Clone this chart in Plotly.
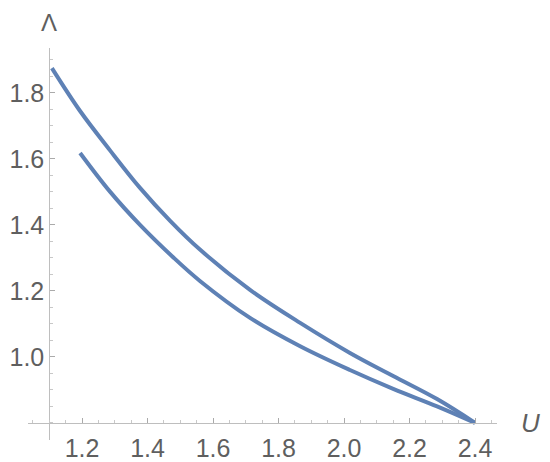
import plotly.graph_objects as go

# upper branch
u_upper = [1.108, 1.194, 1.286, 1.377, 1.469, 1.560, 1.713, 1.866, 2.018, 2.150, 2.284, 2.400]
l_upper = [1.875, 1.745, 1.625, 1.512, 1.412, 1.325, 1.203, 1.103, 1.012, 0.942, 0.872, 0.800]

# lower branch
u_lower = [1.194, 1.286, 1.377, 1.478, 1.560, 1.713, 1.866, 2.018, 2.150, 2.284, 2.400]
l_lower = [1.618, 1.500, 1.400, 1.302, 1.230, 1.118, 1.032, 0.960, 0.903, 0.850, 0.800]

x_ticks = [1.2, 1.4, 1.6, 1.8, 2.0, 2.2, 2.4]
y_ticks = [1.0, 1.2, 1.4, 1.6, 1.8]

blue = "rgb(94,129,181)"
gray = "rgb(95,95,95)"

xr = [1.035, 2.467]
yr = [0.748, 1.936]

fig = go.Figure()
fig.add_trace(go.Scatter(x=u_upper, y=l_upper, mode="lines",
                         line=dict(color=blue, width=4, shape="spline", smoothing=1.0)))
fig.add_trace(go.Scatter(x=u_lower, y=l_lower, mode="lines",
                         line=dict(color=blue, width=4, shape="spline", smoothing=1.0)))

axis_font = dict(family="Liberation Sans, Arial, sans-serif", size=25, color=gray)

# page body has an 8px margin, so the figure is made 8px smaller each way
fig.update_layout(
    width=542, height=454,
    plot_bgcolor="white", paper_bgcolor="white",
    showlegend=False,
    margin=dict(l=20, r=53, t=40, b=22),
    xaxis=dict(range=xr, tickvals=x_ticks, ticktext=["%.1f" % v for v in x_ticks],
               showgrid=False, zeroline=False, showline=True, linecolor="rgb(190,190,190)",
               linewidth=1, ticks="inside", ticklen=5, tickcolor="rgb(170,170,170)",
               minor=dict(dtick=0.05, tick0=1.0, ticks="inside", ticklen=3,
                          tickcolor="rgb(200,200,200)", showgrid=False),
               anchor="free", position=(0.8 - yr[0]) / (yr[1] - yr[0]),
               tickfont=axis_font, ticklabelstandoff=3, automargin=False),
    yaxis=dict(range=yr, tickvals=y_ticks, ticktext=["%.1f" % v for v in y_ticks],
               showgrid=False, zeroline=False, showline=True, linecolor="rgb(190,190,190)",
               linewidth=1, ticks="inside", ticklen=5, tickcolor="rgb(170,170,170)",
               minor=dict(dtick=0.05, tick0=1.0, ticks="inside", ticklen=3,
                          tickcolor="rgb(200,200,200)", showgrid=False),
               anchor="free", position=(1.1 - xr[0]) / (xr[1] - xr[0]),
               tickfont=axis_font, ticklabelstandoff=0, automargin=False),
)

fig.add_annotation(text="\u039b", x=1.1, y=1.0, xref="x", yref="paper", yanchor="bottom",
                   yshift=10, showarrow=False,
                   font=dict(family="Liberation Sans, Arial, sans-serif", size=24, color=gray))
fig.add_annotation(text="<i>U</i>", x=1.0, y=0.8, xref="paper", yref="y", xanchor="left",
                   xshift=22, showarrow=False,
                   font=dict(family="Liberation Sans, Arial, sans-serif", size=26, color=gray))

fig.write_html("out.html")
